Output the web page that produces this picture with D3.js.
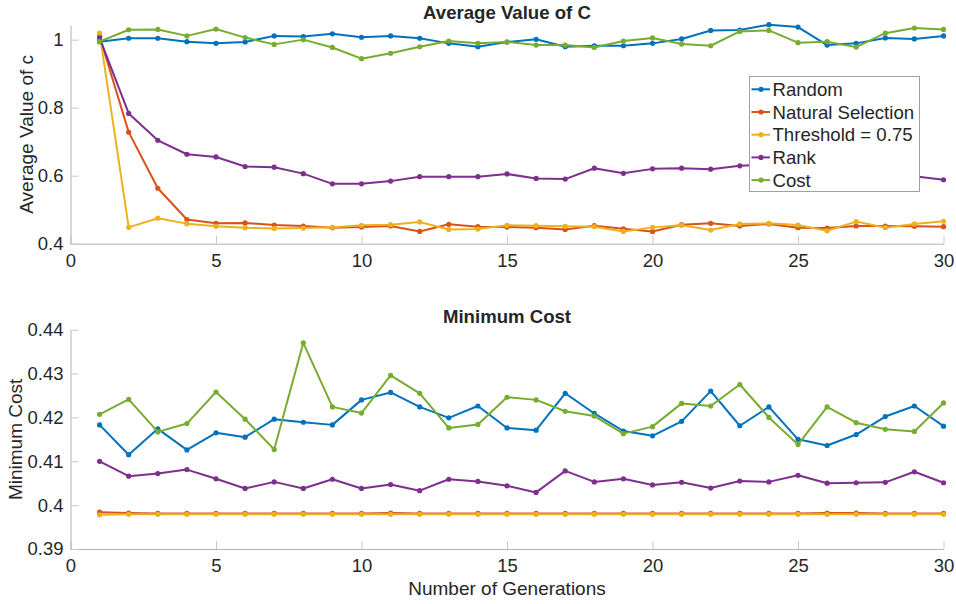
<!DOCTYPE html>
<html>
<head>
<meta charset="utf-8">
<script src="https://cdn.jsdelivr.net/npm/d3@7"></script>
<style>
  body { margin: 0; background: #fff; }
  text { font-family: "Liberation Sans", Arial, sans-serif; fill: #262626; }
</style>
</head>
<body>
<div id="chart"></div>
<script>
// generations on the x axis
const generations = [1, 2, 3, 4, 5, 6, 7, 8, 9, 10, 11, 12, 13, 14, 15,
  16, 17, 18, 19, 20, 21, 22, 23, 24, 25, 26, 27, 28, 29, 30];

const seriesNames = ["Random", "Natural Selection", "Threshold = 0.75", "Rank", "Cost"];
const seriesColors = ["#0072BD", "#D95319", "#EDB120", "#7E2F8E", "#77AC30"];

// top plot: average value of c
const avgRandom = [0.994, 1.004, 1.004, 0.994, 0.989, 0.993, 1.011, 1.009, 1.017, 1.007,
  1.011, 1.004, 0.989, 0.979, 0.993, 1.001, 0.979, 0.982, 0.982, 0.989,
  1.002, 1.027, 1.028, 1.044, 1.037, 0.984, 0.989, 1.005, 1.002, 1.011];
const avgNatural = [1.010, 0.728, 0.563, 0.471, 0.460, 0.461, 0.455, 0.452, 0.447, 0.449,
  0.452, 0.436, 0.457, 0.450, 0.449, 0.447, 0.442, 0.453, 0.444, 0.436,
  0.456, 0.460, 0.452, 0.458, 0.447, 0.446, 0.452, 0.452, 0.451, 0.450];
const avgThreshold = [1.019, 0.448, 0.475, 0.459, 0.451, 0.447, 0.445, 0.446, 0.448, 0.454,
  0.456, 0.464, 0.442, 0.443, 0.454, 0.453, 0.451, 0.450, 0.436, 0.448,
  0.454, 0.440, 0.458, 0.460, 0.455, 0.438, 0.465, 0.447, 0.458, 0.466];
const avgRank = [1.005, 0.783, 0.704, 0.663, 0.655, 0.627, 0.625, 0.606, 0.576, 0.576,
  0.584, 0.597, 0.597, 0.597, 0.605, 0.592, 0.590, 0.622, 0.607, 0.620,
  0.622, 0.619, 0.629, 0.633, 0.628, 0.618, 0.612, 0.605, 0.598, 0.588];
const avgCost = [0.994, 1.029, 1.030, 1.011, 1.031, 1.006, 0.986, 1.000, 0.977, 0.944,
  0.960, 0.979, 0.996, 0.989, 0.993, 0.984, 0.984, 0.977, 0.996, 1.005,
  0.987, 0.982, 1.024, 1.027, 0.991, 0.994, 0.978, 1.019, 1.034, 1.030];

// bottom plot: minimum cost
const minRandom = [0.4183, 0.4115, 0.4174, 0.4126, 0.4165, 0.4155, 0.4196, 0.4189, 0.4183, 0.4240,
  0.4257, 0.4224, 0.4199, 0.4226, 0.4176, 0.4171, 0.4255, 0.4209, 0.4169, 0.4158,
  0.4191, 0.4260, 0.4181, 0.4224, 0.4150, 0.4136, 0.4161, 0.4202, 0.4226, 0.4180];
const minNatural = [0.3984, 0.3982, 0.3981, 0.3981, 0.3981, 0.3981, 0.3981, 0.3981, 0.3981, 0.3981,
  0.3982, 0.3981, 0.3981, 0.3981, 0.3981, 0.3981, 0.3981, 0.3981, 0.3981, 0.3981,
  0.3981, 0.3981, 0.3981, 0.3981, 0.3981, 0.3982, 0.3982, 0.3981, 0.3981, 0.3981];
const minThreshold = [0.3978, 0.3979, 0.3979, 0.3979, 0.3979, 0.3979, 0.3979, 0.3979, 0.3979, 0.3979,
  0.3979, 0.3979, 0.3979, 0.3979, 0.3979, 0.3979, 0.3979, 0.3979, 0.3979, 0.3979,
  0.3979, 0.3979, 0.3979, 0.3979, 0.3979, 0.3979, 0.3979, 0.3979, 0.3979, 0.3979];
const minRank = [0.4100, 0.4066, 0.4072, 0.4081, 0.4060, 0.4038, 0.4053, 0.4038, 0.4059, 0.4038,
  0.4047, 0.4033, 0.4059, 0.4054, 0.4044, 0.4029, 0.4078, 0.4053, 0.4060, 0.4046,
  0.4052, 0.4039, 0.4055, 0.4053, 0.4068, 0.4050, 0.4051, 0.4052, 0.4076, 0.4051];
const minCost = [0.4207, 0.4241, 0.4167, 0.4186, 0.4258, 0.4196, 0.4127, 0.4370, 0.4224, 0.4210,
  0.4296, 0.4255, 0.4176, 0.4184, 0.4246, 0.4240, 0.4214, 0.4203, 0.4163, 0.4179,
  0.4232, 0.4226, 0.4275, 0.4200, 0.4138, 0.4224, 0.4188, 0.4173, 0.4168, 0.4233];

const xTicks = [0, 5, 10, 15, 20, 25, 30];
const yTicksTop = [0.4, 0.6, 0.8, 1];
const yTicksBottom = [0.39, 0.4, 0.41, 0.42, 0.43, 0.44];

const width = 956, height = 604;
const axisColor = "#b3b3b3";

const svg = d3.select("#chart")
    .append("svg")
    .attr("width", width)
    .attr("height", height);

const xScale = d3.scaleLinear().domain([0, 30]).range([70.5, 943.5]);

function drawPanel(cfg) {
    const yScale = d3.scaleLinear().domain(cfg.yDomain).range(cfg.yRange);
    const g = svg.append("g");

    // x axis, ticks pointing inwards
    const xAxis = g.append("g")
        .attr("transform", `translate(0,${cfg.yRange[0]})`)
        .call(d3.axisBottom(xScale).tickValues(xTicks).tickFormat(d3.format("~g"))
            .tickSizeInner(-8).tickSizeOuter(0).tickPadding(10));

    const yAxis = g.append("g")
        .attr("transform", `translate(${xScale.range()[0]},0)`)
        .call(d3.axisLeft(yScale).tickValues(cfg.yTicks).tickFormat(d3.format("~g"))
            .tickSizeInner(-8).tickSizeOuter(0).tickPadding(7));

    [xAxis, yAxis].forEach(a => {
        a.select(".domain").attr("stroke", axisColor);
        a.selectAll(".tick line").attr("stroke", "#c8c8c8");
        a.selectAll(".tick text")
            .style("font-size", "18.5px")
            .attr("fill", "#262626");
    });

    // title
    g.append("text")
        .attr("x", 507)
        .attr("y", cfg.titleY)
        .style("text-anchor", "middle")
        .style("font-size", "18.6px")
        .style("font-weight", "bold")
        .attr("fill", "#000")
        .text(cfg.title);

    // y label
    const yMid = (cfg.yRange[0] + cfg.yRange[1]) / 2;
    g.append("text")
        .attr("transform", `translate(${cfg.yLabelX},${yMid}) rotate(-90)`)
        .style("text-anchor", "middle")
        .style("font-size", "19px")
        .text(cfg.yLabel);

    const line = d3.line()
        .x((d, i) => xScale(generations[i]))
        .y(d => yScale(d));

    cfg.series.forEach((values, k) => {
        g.append("path")
            .datum(values)
            .attr("fill", "none")
            .attr("stroke", seriesColors[k])
            .attr("stroke-width", 2)
            .attr("stroke-linejoin", "round")
            .attr("d", line);

        g.selectAll(null)
            .data(values)
            .enter()
            .append("circle")
            .attr("cx", (d, i) => xScale(generations[i]))
            .attr("cy", d => yScale(d))
            .attr("r", 2.6)
            .attr("fill", seriesColors[k]);
    });
    return g;
}

drawPanel({
    title: "Average Value of C",
    titleY: 18.5,
    yLabel: "Average Value of c",
    yLabelX: 33,
    yDomain: [0.4, 1.043],
    yRange: [243.7, 25],
    yTicks: yTicksTop,
    series: [avgRandom, avgNatural, avgThreshold, avgRank, avgCost]
});

drawPanel({
    title: "Minimum Cost",
    titleY: 322.7,
    yLabel: "Minimum Cost",
    yLabelX: 22,
    yDomain: [0.39, 0.44],
    yRange: [549, 329.7],
    yTicks: yTicksBottom,
    series: [minRandom, minNatural, minThreshold, minRank, minCost]
});

// x axis label (bottom panel only)
svg.append("text")
    .attr("x", 507)
    .attr("y", 595)
    .style("text-anchor", "middle")
    .style("font-size", "19px")
    .text("Number of Generations");

// legend, opaque so it covers the lines behind it
const legend = svg.append("g").attr("transform", "translate(749.5,76.5)");
legend.append("rect")
    .attr("width", 170)
    .attr("height", 115)
    .attr("fill", "#fff")
    .attr("stroke", "#a0a0a0")
    .attr("stroke-width", 1);

seriesNames.forEach((name, k) => {
    const cy = 12.8 + k * 22.7;
    legend.append("line")
        .attr("x1", 2).attr("x2", 20.5)
        .attr("y1", cy).attr("y2", cy)
        .attr("stroke", seriesColors[k])
        .attr("stroke-width", 2);
    legend.append("circle")
        .attr("cx", 11.5).attr("cy", cy)
        .attr("r", 2.6)
        .attr("fill", seriesColors[k]);
    legend.append("text")
        .attr("x", 23)
        .attr("y", cy + 6.5)
        .style("font-size", "18.6px")
        .text(name);
});
</script>
</body>
</html>
